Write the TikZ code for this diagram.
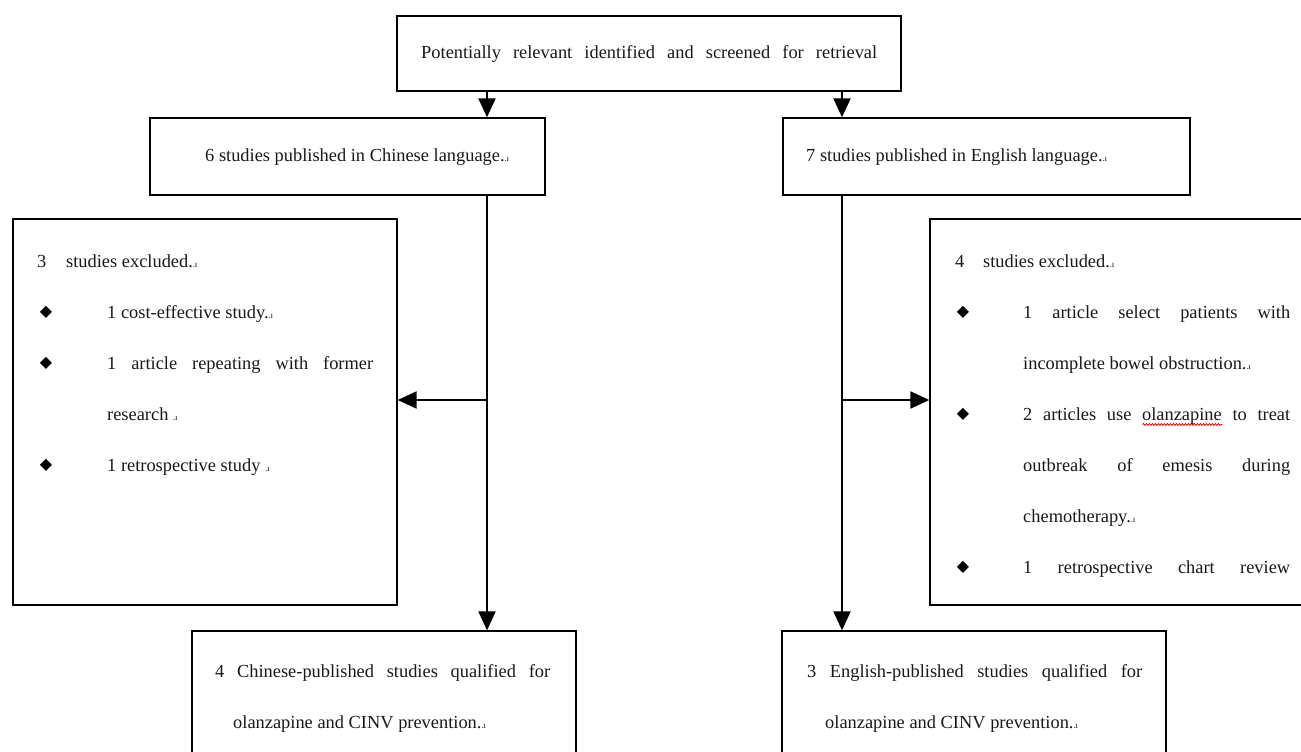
\documentclass[tikz,border=0pt]{standalone}
\usepackage{fontspec}
\setmainfont{Liberation Serif}
\newfontfamily\dejavu{DejaVu Sans}
\usetikzlibrary{arrows.meta,decorations.pathmorphing}
\newcommand\pmark{{\fontsize{9}{9}\selectfont .\kern-0.3ptı}}
\newlength\wavelen
\newcommand\redwave[1]{\settowidth\wavelen{#1}\rlap{\tikz[baseline=0pt,x=1pt,y=1pt]{\draw[red!85!black,line width=0.7pt,decorate,decoration={snake,amplitude=1pt,segment length=3pt}] (0pt,-4.5pt) -- (\wavelen,-4.5pt);}}#1}
\begin{document}
\begin{tikzpicture}[x=1pt,y=-1pt,
  box/.style={draw=black, line width=1.3pt, fill=white, inner sep=0pt},
  arr/.style={line width=2pt, -{Triangle[length=19pt,width=17pt]}},
  txt/.style={anchor=base west, inner sep=0pt, font=\fontsize{18.4}{21}\selectfont, text=black!90},
  bul/.style={anchor=center, inner sep=0pt, font=\dejavu\fontsize{16}{16}\selectfont}
]
\useasboundingbox (0,0) rectangle (1301,752);
\fill[white] (0,0) rectangle (1301,752);
\clip (0,0) rectangle (1301,752);

% boxes
\node[box, minimum width=504pt, minimum height=75pt] (top) at (649,53.5) {};
\node[box, minimum width=395pt, minimum height=77pt] (chn) at (347.5,156.5) {};
\node[box, minimum width=407pt, minimum height=77pt] (eng) at (986.5,156.5) {};
\node[box, minimum width=384pt, minimum height=386pt] (lex) at (205,412) {};
\node[box, minimum width=390pt, minimum height=386pt] (rex) at (1125,412) {};
\node[box, minimum width=384pt, minimum height=149pt] (lbot) at (384,705.5) {};
\node[box, minimum width=384pt, minimum height=149pt] (rbot) at (974,705.5) {};

\coordinate (lx) at (487,0);
\coordinate (rx) at (842,0);
\coordinate (ay) at (0,400);

% connectors
\draw[arr] (top.south -| lx) -- (chn.north -| lx);
\draw[arr] (top.south -| rx) -- (eng.north -| rx);
\draw[arr] (chn.south -| lx) -- (lbot.north -| lx);
\draw[arr] (eng.south -| rx) -- (rbot.north -| rx);
\draw[arr] (lx |- ay) -- (lex.east |- ay);
\draw[arr] (rx |- ay) -- (rex.west |- ay);

% texts
\node[txt] (t0) at (421,59) {\makebox[456pt][s]{Potentially relevant identified and screened for retrieval}};
\node[txt] (t1) at (205,161) {6 studies published in Chinese language.\pmark};
\node[txt] (t2) at (806,161) {7 studies published in English language.\pmark};

% left excluded
\node[txt] (a0) at (37,267) {3};
\node[txt] (a0b) at (66,267) {studies excluded.\pmark};
\node[bul] (b1) at (46,312) {◆};
\node[txt] (a1) at (107,318) {1 cost-effective study.\pmark};
\node[bul] (b2) at (46,363) {◆};
\node[txt] (a2) at (107,369) {\makebox[266pt][s]{1 article repeating with former}};
\node[txt] (a3) at (107,420) {research \pmark};
\node[bul] (b3) at (46,465) {◆};
\node[txt] (a4) at (107,471) {1 retrospective study \pmark};

% right excluded
\node[txt] (c0) at (955,267) {4};
\node[txt] (c0b) at (983,267) {studies excluded.\pmark};
\node[bul] (d1) at (963,312) {◆};
\node[txt] (c1) at (1023,318) {\makebox[267pt][s]{1 article select patients with}};
\node[txt] (c2) at (1023,369) {incomplete bowel obstruction.\pmark};
\node[bul] (d2) at (963,414) {◆};
\node[txt] (c3) at (1023,420) {\makebox[267pt][s]{2 articles use \redwave{olanzapine} to treat}};
\node[txt] (c4) at (1023,471) {\makebox[267pt][s]{outbreak of emesis during}};
\node[txt] (c5) at (1023,522) {chemotherapy.\pmark};
\node[bul] (d3) at (963,567) {◆};
\node[txt] (c6) at (1023,573) {\makebox[267pt][s]{1 retrospective chart review}};

% bottom
\node[txt] (e1) at (215,677) {\makebox[335pt][s]{4 Chinese-published studies qualified for}};
\node[txt] (e2) at (233,728) {olanzapine and CINV prevention.\pmark};
\node[txt] (f1) at (807,677) {\makebox[335pt][s]{3 English-published studies qualified for}};
\node[txt] (f2) at (825,728) {olanzapine and CINV prevention.\pmark};
\end{tikzpicture}
\end{document}
